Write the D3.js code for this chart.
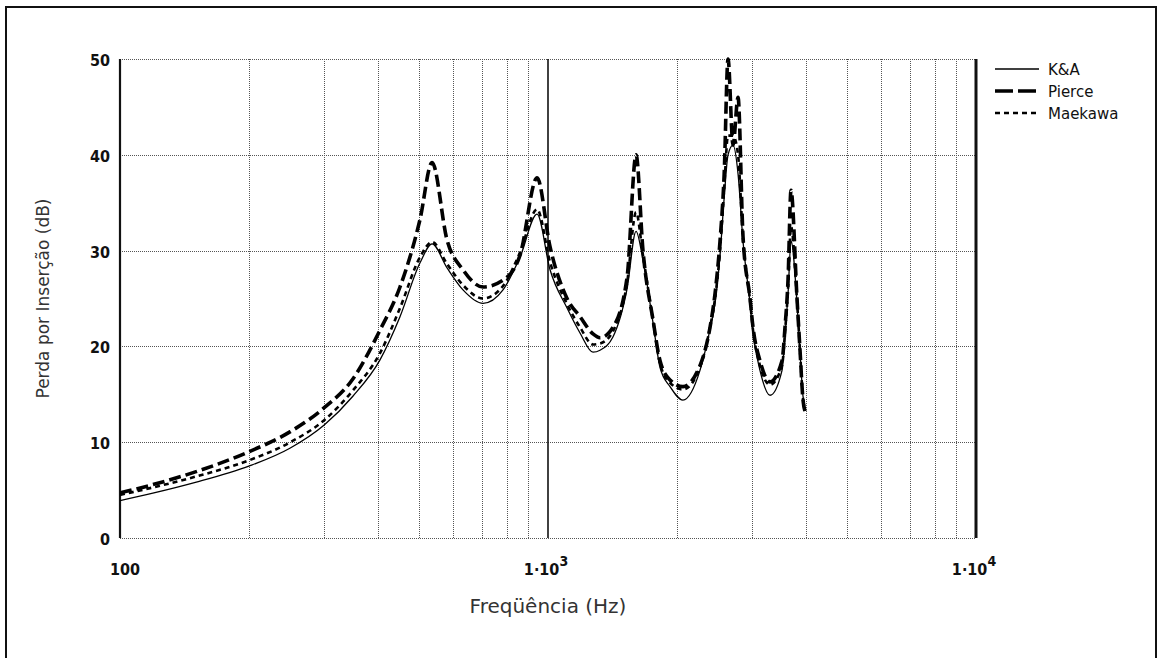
<!DOCTYPE html>
<html>
<head>
<meta charset="utf-8">
<script src="https://cdn.jsdelivr.net/npm/d3@7"></script>
<style>
  html, body { margin: 0; padding: 0; background: #fff; }
  svg { display: block; }
</style>
</head>
<body>
<svg id="chart" width="1158" height="658"></svg>
<script>
// Insertion loss of a barrier: three prediction models vs. frequency
const freq = [100, 120, 150, 200, 250, 300, 350, 405, 451, 502, 536, 581, 633, 705, 785, 860, 943, 1011, 1108, 1188,
  1274, 1323, 1419, 1530, 1606, 1667, 1759, 1827, 1928, 2067, 2265, 2391, 2456, 2523, 2580, 2634, 2706, 2780, 2855, 2965,
  3013, 3128, 3302, 3522, 3579, 3638, 3696, 3818, 3880, 3943, 3986];

const kaValues = [3.9, 4.7, 5.8, 7.5, 9.4, 11.8, 14.8, 18.6, 23.1, 28.7, 30.7, 28.2, 25.9, 24.5, 25.9, 29.3, 33.8, 28.0, 24.0, 21.4,
  19.4, 19.6, 21.0, 26.0, 32.0, 29.0, 22.5, 17.8, 15.8, 14.4, 17.5, 21.8, 24.5, 29.5, 35.5, 40.0, 41.0, 38.0, 31.0, 24.5,
  21.4, 17.5, 14.9, 17.5, 21.0, 25.5, 31.0, 24.5, 19.4, 14.8, 13.8];

const pierceValues = [4.7, 5.6, 6.9, 9.0, 11.1, 13.6, 16.6, 21.7, 26.2, 33.2, 39.2, 31.1, 28.0, 26.2, 26.9, 29.5, 37.6, 30.4, 25.0, 23.1,
  21.3, 20.9, 22.0, 27.2, 40.0, 30.0, 22.8, 18.5, 16.5, 15.8, 18.0, 22.0, 25.5, 31.0, 38.0, 50.0, 41.0, 46.0, 31.5, 25.0,
  22.0, 18.5, 16.3, 18.5, 22.0, 27.0, 36.3, 25.0, 19.6, 14.4, 13.2];

const maekawaValues = [4.5, 5.3, 6.4, 8.1, 10.0, 12.3, 15.4, 19.3, 24.0, 29.3, 30.9, 28.6, 26.4, 25.0, 26.3, 29.8, 34.3, 28.8, 24.4, 22.0,
  20.2, 20.3, 21.6, 26.6, 34.0, 29.5, 22.7, 18.2, 16.2, 15.5, 17.8, 22.0, 25.0, 30.0, 36.5, 42.0, 42.0, 40.0, 31.2, 24.8,
  21.7, 18.0, 16.0, 18.0, 21.5, 26.0, 32.5, 24.8, 19.5, 14.6, 13.5];

const seriesNames = ["K&A", "Pierce", "Maekawa"];
const yTicks = [0, 10, 20, 30, 40, 50];
const xMajorTicks = [100, 1000, 10000];
const xTickLabels = [["100", ""], ["1·10", "3"], ["1·10", "4"]];
const yTitle = "Perda por Inserção (dB)";
const xTitle = "Freqüência (Hz)";

const svg = d3.select("#chart");
const W = 1158, H = 658;
const plot = { left: 120, right: 976, top: 59, bottom: 538 };

const x = d3.scaleLog().domain([100, 10000]).range([plot.left, plot.right]);
const y = d3.scaleLinear().domain([0, 50]).range([plot.bottom, plot.top]);

// outer frame (left, top, right)
svg.append("path")
  .attr("d", `M6,${H} L6,7 L1156,7 L1156,${H}`)
  .attr("fill", "none").attr("stroke", "#111").attr("stroke-width", 2);

// minor vertical grid lines (dotted)
const minor = [];
[100, 1000].forEach(d => { for (let k = 2; k <= 9; k++) minor.push(d * k); });
const grid = svg.append("g").attr("stroke", "#555").attr("stroke-width", 1).attr("stroke-dasharray", "1,1");
grid.selectAll("line.v").data(minor).join("line")
  .attr("x1", d => Math.round(x(d)) + 0.5).attr("x2", d => Math.round(x(d)) + 0.5)
  .attr("y1", plot.top).attr("y2", plot.bottom);
grid.selectAll("line.h").data(yTicks).join("line")
  .attr("x1", plot.left).attr("x2", plot.right)
  .attr("y1", d => Math.round(y(d)) + 0.5).attr("y2", d => Math.round(y(d)) + 0.5);

// solid decade lines
svg.append("line").attr("x1", x(1000)).attr("x2", x(1000)).attr("y1", plot.top).attr("y2", plot.bottom)
  .attr("stroke", "#111").attr("stroke-width", 1.6);
svg.append("line").attr("x1", x(100)).attr("x2", x(100)).attr("y1", plot.top).attr("y2", plot.bottom)
  .attr("stroke", "#111").attr("stroke-width", 2.2);
svg.append("line").attr("x1", x(10000)).attr("x2", x(10000)).attr("y1", plot.top).attr("y2", plot.bottom)
  .attr("stroke", "#111").attr("stroke-width", 3);

// y tick labels
const tickFont = "'Liberation Sans Narrow', 'DejaVu Sans Condensed', Arial, sans-serif";
svg.append("g").selectAll("text").data(yTicks).join("text")
  .attr("x", 110).attr("y", d => y(d) + 7)
  .attr("text-anchor", "end")
  .attr("font-family", tickFont).attr("font-weight", "bold").attr("font-size", 16)
  .attr("fill", "#111").text(d => d);

// x tick labels with superscript exponent
const xl = svg.append("g").selectAll("text").data(xMajorTicks).join("text")
  .attr("x", (d, i) => x(d) + (i === 0 ? 5 : -2)).attr("y", 575)
  .attr("text-anchor", "middle")
  .attr("font-family", tickFont).attr("font-weight", "bold").attr("font-size", 16)
  .attr("fill", "#111");
xl.append("tspan").text((d, i) => xTickLabels[i][0]);
xl.append("tspan").attr("dy", -9).attr("font-size", 14).text((d, i) => xTickLabels[i][1]);

// axis titles
const titleFont = "'DejaVu Sans', Verdana, sans-serif";
svg.append("text")
  .attr("transform", `translate(49,${(plot.top + plot.bottom) / 2}) rotate(-90)`)
  .attr("text-anchor", "middle")
  .attr("font-family", titleFont).attr("font-size", 17)
  .attr("fill", "#333").text(yTitle);
svg.append("text")
  .attr("x", 548).attr("y", 613)
  .attr("text-anchor", "middle")
  .attr("font-family", titleFont).attr("font-size", 20)
  .attr("fill", "#333").text(xTitle);

// series
const styles = [
  { width: 1.3, dash: null },
  { width: 3.6, dash: "12,5" },
  { width: 2.6, dash: "5,4" }
];
const allValues = [kaValues, pierceValues, maekawaValues];
const line = d3.line()
  .x(d => x(d[0]))
  .y(d => y(d[1]))
  .curve(d3.curveMonotoneX);

svg.append("defs").append("clipPath").attr("id", "plotClip")
  .append("rect").attr("x", plot.left).attr("y", plot.top - 2)
  .attr("width", plot.right - plot.left).attr("height", plot.bottom - plot.top + 2);

const lines = svg.append("g").attr("clip-path", "url(#plotClip)");
allValues.forEach((vals, i) => {
  lines.append("path")
    .datum(freq.map((f, j) => [f, vals[j]]))
    .attr("d", line)
    .attr("fill", "none")
    .attr("stroke", "#000")
    .attr("stroke-width", styles[i].width)
    .attr("stroke-dasharray", styles[i].dash)
    .attr("stroke-linejoin", "round");
});

// legend
const legend = svg.append("g");
seriesNames.forEach((name, i) => {
  const ly = 69 + i * 22;
  legend.append("line")
    .attr("x1", 995).attr("x2", 1039).attr("y1", ly).attr("y2", ly)
    .attr("stroke", "#000").attr("stroke-width", styles[i].width)
    .attr("stroke-dasharray", i === 1 ? "18,5" : styles[i].dash);
  legend.append("text")
    .attr("x", 1048).attr("y", ly + 5.5)
    .attr("font-family", titleFont).attr("font-size", 15)
    .attr("fill", "#111").text(name);
});
</script>
</body>
</html>
